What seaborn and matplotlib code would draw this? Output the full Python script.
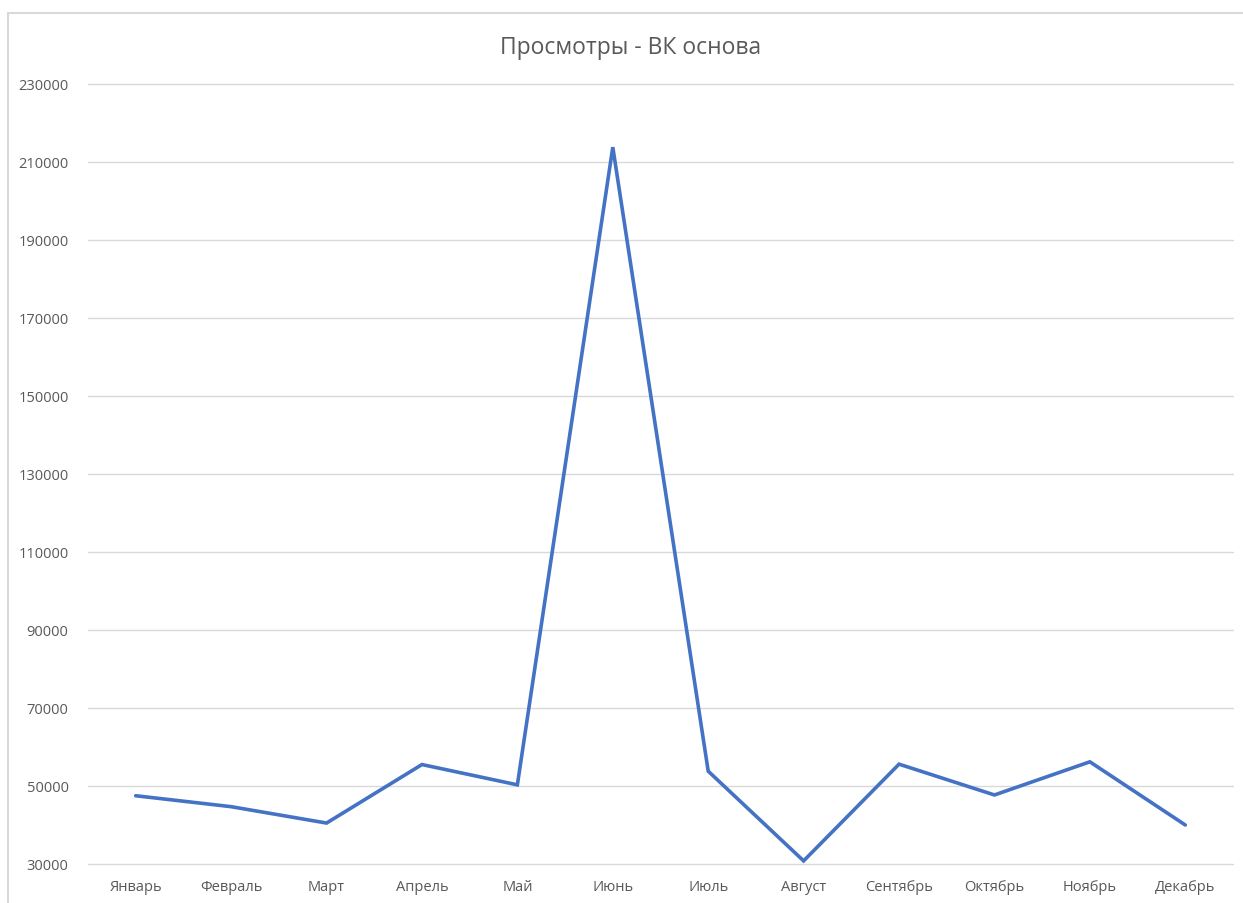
import pandas as pd
import matplotlib
matplotlib.use("Agg")
import matplotlib.pyplot as plt
from matplotlib.patches import Rectangle
import seaborn as sns

# данные
months = ["Январь", "Февраль", "Март", "Апрель", "Май", "Июнь",
          "Июль", "Август", "Сентябрь", "Октябрь", "Ноябрь", "Декабрь"]
views = [47500, 44700, 40500, 55500, 50300, 213800,
         53800, 30800, 55600, 47700, 56200, 40000]
y_ticks = list(range(30000, 230001, 20000))

df = pd.DataFrame({"month": months, "views": views})

sns.set_theme(style="white")
plt.rcParams["font.family"] = ["Open Sans", "DejaVu Sans"]

fig = plt.figure(figsize=(12.43, 9.04), dpi=100)
ax = fig.add_axes([88 / 1243, 1 - 865 / 904, (1233 - 88) / 1243, (865 - 85) / 904])

# рамка области диаграммы, как в Excel
fig.patches.append(Rectangle((8 / 1243, -0.01), 1.05, 1 - 14 / 904 + 0.01,
                             transform=fig.transFigure, fill=False,
                             edgecolor="#D9D9D9", linewidth=1.5))

sns.lineplot(data=df, x="month", y="views", sort=False, ax=ax,
             color="#4472C4", linewidth=2.6, solid_capstyle="round",
             solid_joinstyle="miter")

ax.set_xlim(-0.5, len(months) - 0.5)
ax.set_ylim(y_ticks[0], y_ticks[-1])
ax.set_yticks(y_ticks)
ax.set_yticklabels([str(t) for t in y_ticks])
ax.grid(axis="y", color="#D9D9D9", linewidth=1)
for gl in ax.get_ygridlines():
    gl.set_clip_on(False)
ax.set_axisbelow(True)
for s in ax.spines.values():
    s.set_visible(False)
ax.tick_params(axis="y", length=0, pad=14, labelsize=10.5, labelcolor="#595959")
ax.tick_params(axis="x", length=0, pad=11, labelsize=10.5, labelcolor="#595959")
ax.set_xlabel("")
ax.set_ylabel("")

fig.text(631 / 1243, 1 - 48 / 904, "Просмотры - ВК основа", ha="center", va="center",
         fontsize=16.5, color="#595959")

fig.savefig("out.png", dpi=100, facecolor="white")
